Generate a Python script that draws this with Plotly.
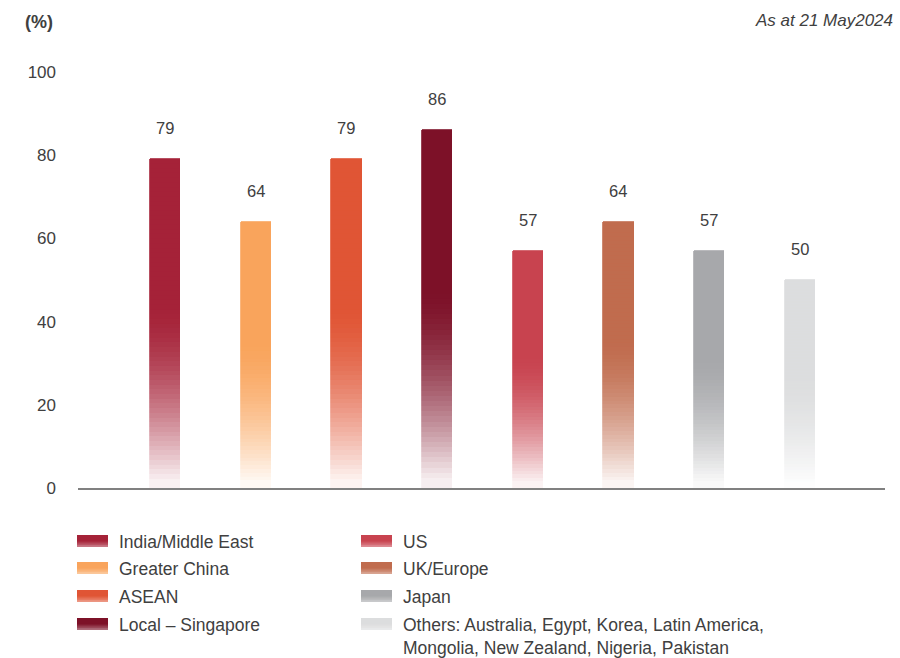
import plotly.graph_objects as go

categories = ["India/Middle East", "Greater China", "ASEAN", "Local – Singapore",
              "US", "UK/Europe", "Japan",
              "Others: Australia, Egypt, Korea, Latin America,<br>Mongolia, New Zealand, Nigeria, Pakistan"]
values = [79, 64, 79, 86, 57, 64, 57, 50]
labels = ["79", "64", "79", "86", "57", "64", "57", "50"]
colors = ["#A52238", "#F9A45C", "#E05535", "#7D1128", "#C8434F", "#C06C4E", "#A7A8AB", "#DCDDDE"]
y_ticks = [0, 20, 40, 60, 80, 100]

W, H = 900, 658
L, R, T, B = 78, 15, 72, 170
PW, PH = W - L - R, H - T - B
FONT = "Liberation Sans, Arial"
TXT = "#404040"


def hex2rgb(h):
    h = h.lstrip("#")
    return tuple(int(h[i:i + 2], 16) for i in (0, 2, 4))


def mix(c, a):
    r, g, b = hex2rgb(c)
    return "rgb(%d,%d,%d)" % (round(255 + (r - 255) * a), round(255 + (g - 255) * a), round(255 + (b - 255) * a))


def strength(t, t0=0.55):
    if t >= t0:
        return 1.0
    return max(0.07, 1 - (1 - t / t0) ** 1.6)


xs = list(range(len(values)))
fig = go.Figure()

# each bar is drawn as a stack of thin slices so that it can fade towards its base
N = 70
for k in range(N):
    tmid = (k + 0.5) / N
    cols = [mix(c, strength(tmid)) for c in colors]
    fig.add_trace(go.Bar(
        x=xs, y=[v / N for v in values],
        width=0.335,
        marker=dict(color=cols, line=dict(width=0.8, color=cols)),
        showlegend=False, hoverinfo="skip"))

annotations = []
for x, v, lab in zip(xs, values, labels):
    annotations.append(dict(x=x, y=v, text=lab, showarrow=False, yshift=31,
                            font=dict(size=16.5, color=TXT, family=FONT)))

annotations.append(dict(xref="paper", yref="paper", x=(39 - L) / PW, y=(488 - 22) / PH,
                        text="<b>(%)</b>", showarrow=False, xanchor="center", yanchor="middle",
                        font=dict(size=18, color=TXT, family=FONT)))
annotations.append(dict(xref="paper", yref="paper", x=(895 - L) / PW, y=(488 - 20) / PH,
                        text="<i>As at 21 May2024</i>", showarrow=False, xanchor="right", yanchor="middle",
                        font=dict(size=17, color=TXT, family=FONT)))

# custom legend (gradient swatch built from overlapping rectangles, lighter towards the bottom)
shapes = []
leg_pos = [(77, 541), (77, 568), (77, 596), (77, 624), (361, 541), (361, 568), (361, 596), (361, 624)]
sw_w, sw_h = 31, 12
steps = [(0.0, 1.0), (0.55, 0.9), (0.7, 0.78), (0.85, 0.62)]
for (lx, ly), c, name in zip(leg_pos, colors, categories):
    top = ly - sw_h / 2
    for start, a in steps:
        y0 = top + start * sw_h
        y1 = top + sw_h
        shapes.append(dict(type="rect", xref="paper", yref="paper",
                           x0=(lx - L) / PW, x1=(lx + sw_w - L) / PW,
                           y0=(488 - y1) / PH, y1=(488 - y0) / PH,
                           fillcolor=mix(c, a), line=dict(width=0), layer="above"))
    annotations.append(dict(xref="paper", yref="paper", x=(lx + 40 - L) / PW, y=(488 - ly + 11) / PH,
                            text=name, showarrow=False, xanchor="left", yanchor="top", align="left",
                            font=dict(size=17.5, color=TXT, family=FONT)))

fig.update_layout(
    width=W, height=H,
    margin=dict(l=L, r=R, t=T, b=B),
    barmode="stack", bargap=0,
    plot_bgcolor="white", paper_bgcolor="white",
    annotations=annotations, shapes=shapes,
    xaxis=dict(range=[-0.96, 7.94], showticklabels=False, ticks="", showgrid=False, zeroline=False,
               showline=True, linecolor="#808080", linewidth=2, fixedrange=True),
    yaxis=dict(range=[0, 100], tickvals=y_ticks, ticktext=[str(v) for v in y_ticks],
               showgrid=False, zeroline=False, showline=False, ticks="",
               ticklabelstandoff=21, fixedrange=True,
               tickfont=dict(size=17, color=TXT, family=FONT)),
    font=dict(family=FONT),
)

fig.write_html("out.html", config={"displayModeBar": False},
               post_script="document.body.style.margin='0px';document.body.style.overflow='hidden';")
